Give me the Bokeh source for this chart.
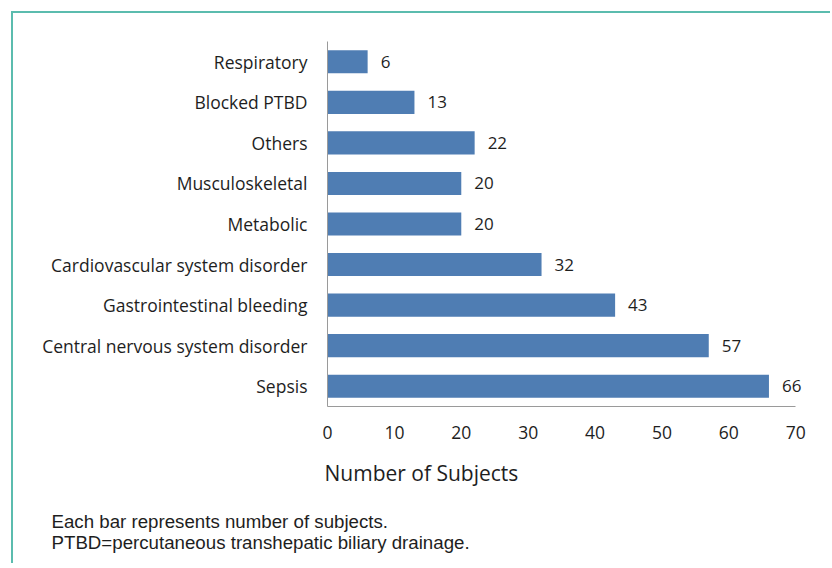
from bokeh.plotting import figure
from bokeh.models import FactorRange, Range1d, Title, ColumnDataSource, FixedTicker
from bokeh.core.properties import value
from bokeh.embed import file_html
from bokeh.resources import INLINE

# Data (bottom to top)
categories = ["Sepsis", "Central nervous system disorder", "Gastrointestinal bleeding",
              "Cardiovascular system disorder", "Metabolic", "Musculoskeletal",
              "Others", "Blocked PTBD", "Respiratory"]
subjects = [66, 57, 43, 32, 20, 20, 22, 13, 6]
x_ticks = [0, 10, 20, 30, 40, 50, 60, 70]
x_label = "Number of Subjects"
notes = ["Each bar represents number of subjects.",
         "PTBD=percutaneous transhepatic biliary drainage."]

FONT = "Open Sans"
BAR = "#4f7db3"
TXT = "#1e1e1e"

src = ColumnDataSource(dict(cat=categories, val=subjects, lab=[str(v) for v in subjects]))

p = figure(width=819, height=552, output_backend="svg", toolbar_location=None,
           y_range=FactorRange(factors=categories, range_padding=0),
           x_range=Range1d(0, 75.5),
           min_border_left=314, min_border_right=0, min_border_top=28, min_border_bottom=159)
p.styles = {"margin-left": "11px", "margin-top": "11px",
            "border-left": "2px solid #5bbcae", "border-top": "2px solid #5bbcae"}
p.outline_line_color = None
p.grid.visible = False
p.background_fill_color = "white"
p.border_fill_color = "white"

p.hbar(y="cat", right="val", left=0, height=0.57, source=src, fill_color=BAR, line_color=None)
p.text(x="val", y="cat", text="lab", source=src, x_offset=13, text_align="left",
       text_baseline="middle", text_font=value(FONT), text_font_size="17px", text_color=TXT)

for ax in (p.xaxis[0], p.yaxis[0]):
    ax.axis_line_color = "#9a9a9a"
    ax.axis_line_width = 1
    ax.major_tick_line_color = None
    ax.minor_tick_line_color = None
    ax.major_label_text_font = FONT
    ax.major_label_text_font_size = "17.5px"
    ax.major_label_text_color = TXT

p.xaxis.ticker = FixedTicker(ticks=x_ticks)
p.xaxis.bounds = (0, 70)
p.xaxis.major_label_standoff = 13
p.yaxis.major_label_standoff = 14

p.add_layout(Title(text=x_label, align="left", offset=-3, standoff=31,
                   text_font=FONT, text_font_size="21px", text_color=TXT,
                   text_font_style="normal"), "below")
p.add_layout(Title(text="\n".join(notes), align="left", offset=-276, standoff=12,
                   text_font="Liberation Sans", text_font_size="18.7px", text_color=TXT,
                   text_font_style="normal"), "below")

open("out.html", "w").write(file_html(p, INLINE))
